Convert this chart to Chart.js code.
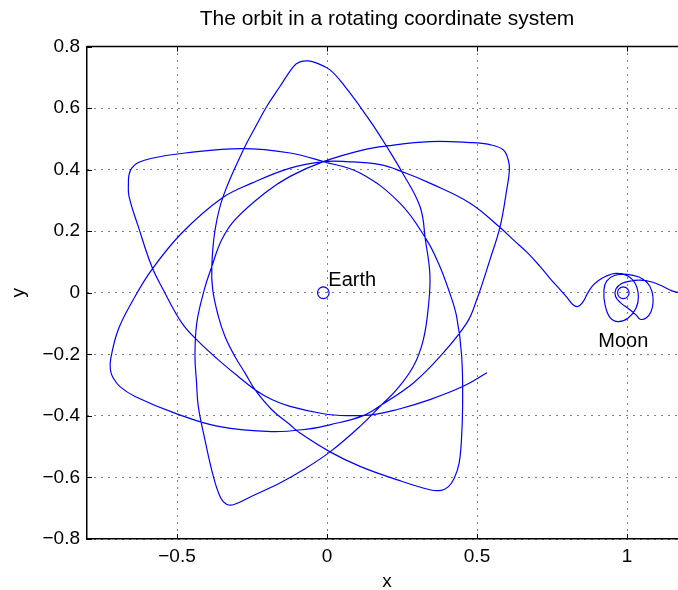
<!DOCTYPE html>
<html>
<head>
<meta charset="utf-8">
<title>The orbit in a rotating coordinate system</title>
<script src="https://cdn.jsdelivr.net/npm/chart.js@4/dist/chart.umd.min.js"></script>
<style>
  html, body { margin: 0; padding: 0; background: #fff; overflow: hidden; }
  canvas { display: block; }
</style>
</head>
<body>
<canvas id="orbit" width="700" height="590"></canvas>
<script>
// Spacecraft path in the rotating Earth–Moon frame, [x, y] in Earth–Moon distances,
// split into consecutive pieces of one continuous trajectory.
const loopsNearMoon = [
  [1.190, -0.004], [1.150, 0.006], [1.117, 0.022], [1.083, 0.035], [1.043, 0.041],
  [1.010, 0.038], [0.982, 0.030], [0.963, 0.012], [0.962, -0.012], [0.978, -0.032],
  [1.005, -0.052], [1.030, -0.072], [1.044, -0.086], [1.064, -0.082], [1.080, -0.062],
  [1.087, -0.030], [1.083, 0.005], [1.068, 0.032], [1.040, 0.051], [1.000, 0.060],
  [0.958, 0.056], [0.932, 0.038], [0.923, 0.008], [0.927, -0.040], [0.943, -0.080],
  [0.971, -0.094], [1.004, -0.082], [1.030, -0.050], [1.038, -0.012], [1.027, 0.031],
  [0.999, 0.056], [0.962, 0.063], [0.928, 0.053], [0.905, 0.040], [0.885, 0.022],
  [0.868, -0.003], [0.851, -0.033], [0.835, -0.045], [0.819, -0.038], [0.799, -0.014],
  [0.777, 0.010]
];
const firstSweep = [
  [0.743, 0.047], [0.707, 0.089], [0.667, 0.131], [0.623, 0.170], [0.577, 0.212], [0.477, 0.291],
  [0.343, 0.356], [0.249, 0.394], [0.177, 0.416], [0.066, 0.426], [-0.012, 0.426],
  [-0.123, 0.405], [-0.251, 0.356], [-0.351, 0.307], [-0.484, 0.194], [-0.584, 0.075],
  [-0.646, -0.023], [-0.696, -0.120], [-0.721, -0.215], [-0.722, -0.250], [-0.713, -0.276],
  [-0.690, -0.305], [-0.640, -0.337], [-0.507, -0.391], [-0.362, -0.434], [-0.184, -0.451],
  [-0.060, -0.442], [0.010, -0.429], [0.121, -0.399], [0.182, -0.364], [0.288, -0.293],
  [0.377, -0.207], [0.466, -0.098], [0.499, -0.023], [0.543, 0.107], [0.577, 0.215],
  [0.599, 0.334], [0.608, 0.399], [0.604, 0.432], [0.588, 0.464], [0.543, 0.481],
  [0.477, 0.488]
];
const secondSweep = [
  [0.343, 0.491], [0.199, 0.477], [0.121, 0.464], [-0.012, 0.426], [-0.123, 0.378],
  [-0.207, 0.324], [-0.307, 0.237], [-0.351, 0.172], [-0.384, 0.085], [-0.409, 0.010],
  [-0.434, -0.098], [-0.440, -0.207], [-0.435, -0.290], [-0.429, -0.369], [-0.407, -0.477],
  [-0.379, -0.596], [-0.355, -0.665], [-0.335, -0.687], [-0.310, -0.688], [-0.251, -0.661],
  [-0.157, -0.618], [-0.079, -0.575], [0.010, -0.517], [0.110, -0.434], [0.182, -0.364],
  [0.232, -0.315], [0.288, -0.239], [0.321, -0.153], [0.338, -0.044], [0.343, 0.058],
  [0.328, 0.172], [0.310, 0.280], [0.249, 0.394], [0.199, 0.475], [0.155, 0.542],
  [0.110, 0.605], [0.060, 0.670], [0.010, 0.724], [-0.034, 0.746], [-0.062, 0.753],
  [-0.090, 0.750], [-0.112, 0.735], [-0.157, 0.670], [-0.201, 0.605], [-0.240, 0.536],
  [-0.279, 0.464], [-0.346, 0.313], [-0.373, 0.205], [-0.384, 0.085], [-0.381, 0.010]
];
const thirdSweep = [
  [-0.362, -0.077], [-0.340, -0.142], [-0.307, -0.207], [-0.273, -0.261], [-0.240, -0.315],
  [-0.184, -0.380], [-0.123, -0.429], [-0.090, -0.456], [0.010, -0.517], [0.110, -0.564],
  [0.232, -0.607], [0.343, -0.640], [0.380, -0.642], [0.405, -0.630], [0.424, -0.603],
  [0.440, -0.555], [0.448, -0.480], [0.452, -0.369], [0.449, -0.207], [0.432, -0.077],
  [0.406, 0.008], [0.372, 0.095], [0.332, 0.172], [0.243, 0.291], [0.110, 0.389],
  [-0.012, 0.426], [-0.123, 0.454], [-0.284, 0.468], [-0.473, 0.454], [-0.584, 0.437],
  [-0.629, 0.423], [-0.651, 0.405], [-0.660, 0.383], [-0.662, 0.356], [-0.660, 0.313],
  [-0.629, 0.215], [-0.584, 0.085], [-0.546, 0.010], [-0.484, -0.098], [-0.434, -0.153],
  [-0.362, -0.218], [-0.296, -0.272], [-0.240, -0.315], [-0.184, -0.347], [-0.123, -0.369],
  [-0.012, -0.393], [0.066, -0.399], [0.154, -0.396], [0.232, -0.380], [0.343, -0.347],
  [0.454, -0.304], [0.533, -0.260]
];

// Body positions (mass ratio mu = 0.012277)
const earthPos = [-0.012277, 0];
const moonPos = [0.987723, 0];
const bodyNames = ['Earth', 'Moon'];

// Axis ticks and their labels
const xTickValues = [-0.5, 0, 0.5, 1];
const xTickLabels = ['\u22120.5', '0', '0.5', '1'];
const yTickValues = [-0.8, -0.6, -0.4, -0.2, 0, 0.2, 0.4, 0.6, 0.8];
const yTickLabels = ['\u22120.8', '\u22120.6', '\u22120.4', '\u22120.2', '0', '0.2', '0.4', '0.6', '0.8'];

const chartTitle = 'The orbit in a rotating coordinate system';
const FONT = "'Liberation Sans', Arial, Helvetica, sans-serif";
const BLUE = '#0000ff';

const orbitPoints = [...loopsNearMoon, ...firstSweep, ...secondSweep, ...thirdSweep]
  .map(p => ({ x: p[0], y: p[1] }));

// Box, inward tick marks, title and body labels
const frame = {
  id: 'frame',
  afterDraw(chart) {
    const { ctx, chartArea: a, scales } = chart;
    const xs = scales.x, ys = scales.y;
    const tl = 5;
    ctx.save();
    ctx.strokeStyle = '#000';
    ctx.lineWidth = 1;
    ctx.beginPath();
    xTickValues.forEach(v => {
      const px = Math.round(xs.getPixelForValue(v)) + 0.5;
      ctx.moveTo(px, a.bottom); ctx.lineTo(px, a.bottom - tl);
      ctx.moveTo(px, a.top); ctx.lineTo(px, a.top + tl);
    });
    yTickValues.forEach(v => {
      const py = Math.round(ys.getPixelForValue(v)) + 0.5;
      ctx.moveTo(a.left, py); ctx.lineTo(a.left + tl, py);
      ctx.moveTo(a.right, py); ctx.lineTo(a.right - tl, py);
    });
    ctx.stroke();
    ctx.lineWidth = 1.5;
    ctx.beginPath();
    ctx.moveTo(a.left, a.top); ctx.lineTo(a.right, a.top); ctx.lineTo(a.right, a.bottom);
    ctx.stroke();

    ctx.fillStyle = '#000';
    ctx.font = '21px ' + FONT;
    ctx.textAlign = 'center';
    ctx.textBaseline = 'middle';
    ctx.fillText(chartTitle, (a.left + a.right) / 2, 19);

    ctx.font = '20px ' + FONT;
    const ex = xs.getPixelForValue(earthPos[0]), ey = ys.getPixelForValue(earthPos[1]);
    ctx.textAlign = 'left';
    ctx.textBaseline = 'alphabetic';
    ctx.fillText(bodyNames[0], ex + 5, ey - 7);
    const mx = xs.getPixelForValue(moonPos[0]), my = ys.getPixelForValue(moonPos[1]);
    ctx.textAlign = 'center';
    ctx.fillText(bodyNames[1], mx, my + 54);
    ctx.restore();
  }
};

new Chart(document.getElementById('orbit'), {
  type: 'scatter',
  data: {
    datasets: [
      {
        data: orbitPoints,
        showLine: true,
        borderColor: BLUE,
        borderWidth: 1.2,
        pointRadius: 0,
        pointHoverRadius: 0,
        tension: 0.4,
        fill: false
      },
      {
        data: [{ x: earthPos[0], y: earthPos[1] }, { x: moonPos[0], y: moonPos[1] }],
        showLine: false,
        pointStyle: 'circle',
        pointRadius: 5.8,
        pointBorderWidth: 1.2,
        pointBorderColor: BLUE,
        pointBackgroundColor: 'rgba(0,0,0,0)'
      }
    ]
  },
  options: {
    responsive: false,
    animation: false,
    devicePixelRatio: 1,
    layout: { padding: { left: 0, right: 13, top: 46.5, bottom: 0 } },
    plugins: { legend: { display: false }, tooltip: { enabled: false }, title: { display: false } },
    events: [],
    scales: {
      x: {
        type: 'linear',
        min: -0.8,
        max: 1.2,
        afterBuildTicks: axis => { axis.ticks = xTickValues.map(v => ({ value: v })); },
        afterFit: axis => { axis.height = 51; },
        ticks: {
          autoSkip: false,
          maxRotation: 0,
          padding: 6,
          color: '#000',
          font: { family: FONT, size: 19 },
          callback: (v, i) => xTickLabels[i]
        },
        grid: { display: true, drawTicks: false, color: '#000', lineWidth: 1 },
        border: { display: true, color: '#000', width: 1.5, dash: [1, 6] },
        title: { display: true, text: 'x', color: '#000', font: { family: FONT, size: 19 }, padding: { top: 0, bottom: -3 } }
      },
      y: {
        type: 'linear',
        min: -0.8,
        max: 0.8,
        afterBuildTicks: axis => { axis.ticks = yTickValues.map(v => ({ value: v })); },
        afterFit: axis => { axis.width = 87; },
        ticks: {
          autoSkip: false,
          padding: 7,
          color: '#000',
          font: { family: FONT, size: 19 },
          callback: (v, i) => yTickLabels[i]
        },
        grid: { display: true, drawTicks: false, color: '#000', lineWidth: 1 },
        border: { display: true, color: '#000', width: 1.5, dash: [1, 6] },
        title: { display: true, text: 'y', color: '#000', font: { family: FONT, size: 19 }, padding: { top: 7, bottom: 0 } }
      }
    }
  },
  plugins: [frame]
});
</script>
</body>
</html>
